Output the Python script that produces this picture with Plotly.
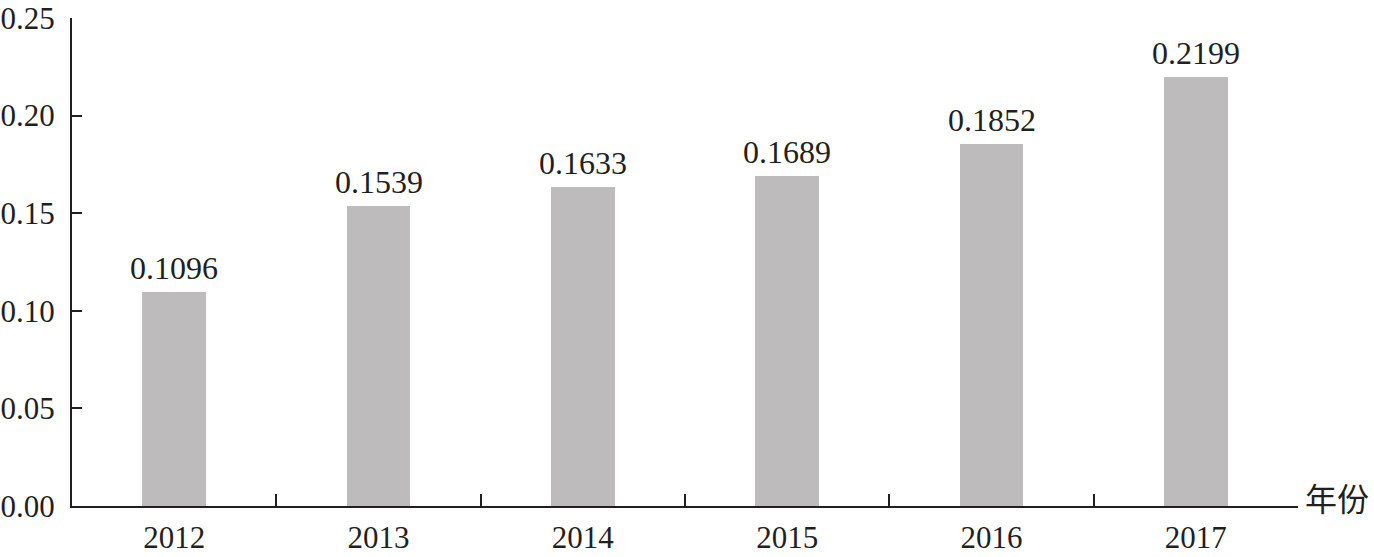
import plotly.graph_objects as go

years = ["2012", "2013", "2014", "2015", "2016", "2017"]
values = [0.1096, 0.1539, 0.1633, 0.1689, 0.1852, 0.2199]
labels = ["0.1096", "0.1539", "0.1633", "0.1689", "0.1852", "0.2199"]
y_ticks = [0, 0.05, 0.10, 0.15, 0.20, 0.25]
y_tick_text = ["0.00", "0.05", "0.10", "0.15", "0.20", "0.25"]

FONT = "Liberation Serif, Times New Roman, serif"
AXIS = "#231F20"

fig = go.Figure(go.Bar(
    x=years, y=values,
    marker=dict(color="#BDBBBC", line=dict(width=0)),
    width=0.313, cliponaxis=False, hoverinfo="skip",
))
for i, (v, t) in enumerate(zip(values, labels)):
    fig.add_annotation(
        x=i, y=v, text=t, showarrow=False, xanchor="center", yanchor="bottom",
        yshift=4, font=dict(family=FONT, size=32, color=AXIS),
    )

fig.update_layout(
    width=1374, height=557,
    margin=dict(l=72, r=76, t=18, b=51, autoexpand=False),
    plot_bgcolor="white", paper_bgcolor="white",
    showlegend=False,
    font=dict(family=FONT, size=31, color=AXIS),
    bargap=0,
)
fig.update_xaxes(
    type="category", range=[-0.5, 5.5], automargin=False,
    showline=True, linecolor=AXIS, linewidth=2,
    ticks="inside", tickson="boundaries", ticklen=12, tickwidth=1.5, tickcolor=AXIS,
    showgrid=False, zeroline=False,
    tickfont=dict(family=FONT, size=31, color=AXIS),
    ticklabelstandoff=3, ticklabeloverflow="allow",
)
fig.update_yaxes(
    range=[0, 0.25], tickvals=y_ticks, ticktext=y_tick_text, automargin=False,
    showline=True, linecolor=AXIS, linewidth=2,
    ticks="inside", ticklen=10, tickwidth=1.5, tickcolor=AXIS,
    showgrid=False, zeroline=False,
    tickfont=dict(family=FONT, size=31, color=AXIS),
    ticklabelstandoff=9, ticklabeloverflow="allow",
)
fig.add_annotation(
    text="年份", xref="paper", yref="paper", x=1.0, y=0,
    xanchor="left", yanchor="middle", xshift=5, yshift=9, showarrow=False,
    font=dict(family="Noto Sans CJK SC, sans-serif", size=32, color=AXIS),
)
fig.write_html(
    "out.html",
    config={"displayModeBar": False},
    post_script="document.body.style.margin='0px';document.body.style.padding='0px';",
)
